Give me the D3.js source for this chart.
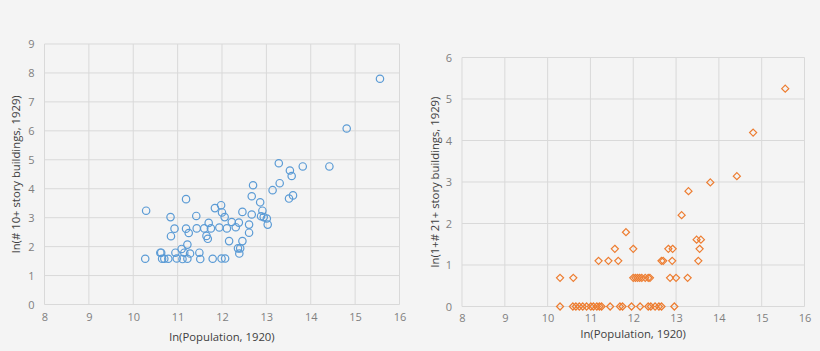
<!DOCTYPE html>
<html>
<head>
<meta charset="utf-8">
<script src="https://cdn.jsdelivr.net/npm/d3@7"></script>
<style>
  body { margin: 0; background: #f4f4f4; }
  svg { display: block; }
  .tick text { fill: #7f7f7f; font-size: 11px; font-family: "Open Sans", "Liberation Sans", sans-serif; }
  .title { fill: #404040; font-size: 11.3px; font-family: "Open Sans", "Liberation Sans", sans-serif; }
</style>
</head>
<body>
<svg id="chart" width="820" height="351"></svg>
<script>
// left chart: ln(pop 1920) vs ln(# 10+ story buildings)
let popTall = [15.56, 14.81, 14.42, 13.82, 13.28, 13.53, 13.57, 13.30, 13.14, 13.51, 13.60,
  12.70, 12.67, 12.86, 12.91, 12.88, 12.94, 13.01, 13.03, 12.67, 12.61, 12.61, 12.46, 12.38,
  12.31, 12.22, 12.46, 12.36, 12.41, 12.39, 12.16, 12.11, 12.06, 12.00, 11.98, 11.84, 11.94,
  11.99, 12.07, 11.79, 11.70, 11.75, 11.60, 11.65, 11.68, 11.43, 11.42, 11.19, 11.19, 11.25,
  11.22, 11.09, 11.15, 11.28, 11.49, 11.51, 11.22, 11.11, 10.98, 10.95, 10.93, 10.84, 10.85,
  10.79, 10.70, 10.65, 10.61, 10.63, 10.29, 10.27]
let tall10 = [7.80, 6.08, 4.77, 4.77, 4.88, 4.63, 4.44, 4.19, 3.95, 3.66, 3.77,
  4.12, 3.74, 3.53, 3.24, 3.05, 3.02, 2.97, 2.76, 3.11, 2.76, 2.48, 3.20, 2.83,
  2.67, 2.85, 2.19, 1.94, 1.94, 1.76, 2.19, 2.63, 3.02, 3.18, 3.43, 3.33, 2.66,
  1.59, 1.59, 1.58, 2.82, 2.63, 2.63, 2.37, 2.27, 2.63, 3.06, 3.64, 2.62, 2.47,
  2.07, 1.92, 1.79, 1.76, 1.79, 1.57, 1.58, 1.57, 1.59, 1.79, 2.62, 3.02, 2.36,
  1.58, 1.58, 1.58, 1.79, 1.79, 3.24, 1.58]

// right chart: ln(pop 1920) vs ln(1 + # 21+ story buildings)
let popSky = [15.55, 14.80, 14.42, 13.80, 13.29, 13.13, 13.48, 13.58, 13.55, 13.52,
  13.27, 13.00, 12.86, 12.82, 12.92, 12.91, 12.66, 12.70, 12.00, 11.83, 11.57, 11.65,
  11.42, 11.19, 10.60, 10.29,
  12.00, 12.05, 12.10, 12.15, 12.20, 12.28, 12.35, 12.39,
  10.29, 10.59, 10.66, 10.74, 10.82, 10.91, 11.01, 11.07, 11.15, 11.21, 11.26, 11.46,
  11.69, 11.75, 11.96, 12.16, 12.35, 12.41, 12.51, 12.60, 12.66, 12.96]
let sky21 = [5.25, 4.19, 3.14, 2.99, 2.78, 2.20, 1.61, 1.61, 1.39, 1.10,
  0.69, 0.69, 0.69, 1.39, 1.39, 1.10, 1.10, 1.10, 1.39, 1.79, 1.39, 1.10,
  1.10, 1.10, 0.69, 0.69,
  0.69, 0.69, 0.69, 0.69, 0.69, 0.69, 0.69, 0.69,
  0, 0, 0, 0, 0, 0, 0, 0, 0, 0, 0, 0,
  0, 0, 0, 0, 0, 0, 0, 0, 0, 0]

let xTicks = [8, 9, 10, 11, 12, 13, 14, 15, 16]
let yTicksLeft = [0, 1, 2, 3, 4, 5, 6, 7, 8, 9]
let yTicksRight = [0, 1, 2, 3, 4, 5, 6]

let svg = d3.select('#chart')

function drawPanel(cfg){
  let g = svg.append('g')
  let xScale = d3.scaleLinear().domain([8, 16]).range([cfg.left, cfg.right])
  let yScale = d3.scaleLinear().domain([0, d3.max(cfg.yTicks)]).range([cfg.bottom, cfg.top])

  // gridlines
  g.append('g').selectAll('line').data(xTicks).join('line')
    .attr('x1', d => xScale(d)).attr('x2', d => xScale(d))
    .attr('y1', cfg.top).attr('y2', cfg.bottom)
    .attr('stroke', '#d9d9d9').attr('stroke-width', 1)
  g.append('g').selectAll('line').data(cfg.yTicks).join('line')
    .attr('x1', cfg.left).attr('x2', cfg.right)
    .attr('y1', d => yScale(d)).attr('y2', d => yScale(d))
    .attr('stroke', '#d9d9d9').attr('stroke-width', 1)

  let xAxis = d3.axisBottom(xScale).tickValues(xTicks).tickFormat(d3.format('d')).tickSize(0).tickPadding(cfg.xPad)
  g.append('g').attr('transform', 'translate(0,' + cfg.bottom + ')').call(xAxis)
    .call(a => a.select('.domain').remove())
  let yAxis = d3.axisLeft(yScale).tickValues(cfg.yTicks).tickFormat(d3.format('d')).tickSize(0).tickPadding(10)
  g.append('g').attr('transform', 'translate(' + cfg.left + ',0)').call(yAxis)
    .call(a => a.select('.domain').remove())

  g.append('text').attr('class', 'title').attr('text-anchor', 'middle')
    .attr('x', (cfg.left + cfg.right) / 2).attr('y', cfg.xTitleY).text(cfg.xTitle)
  g.append('text').attr('class', 'title').attr('text-anchor', 'middle')
    .attr('transform', 'translate(' + cfg.yTitleX + ',' + (cfg.top + cfg.bottom) / 2 + ') rotate(-90)')
    .text(cfg.yTitle)

  let pts = cfg.xs.map((x, i) => ({x: x, y: cfg.ys[i]}))
  if (cfg.shape === 'circle'){
    g.append('g').selectAll('circle').data(pts).join('circle')
      .attr('cx', d => xScale(d.x)).attr('cy', d => yScale(d.y)).attr('r', 3.7)
      .attr('fill', 'none').attr('stroke', '#5b9bd5').attr('stroke-width', 1.2)
  }
  else{
    let diamond = d3.symbol().type(d3.symbolDiamond2).size(32)
    g.append('g').selectAll('path').data(pts).join('path')
      .attr('transform', d => 'translate(' + xScale(d.x) + ',' + yScale(d.y) + ')')
      .attr('d', diamond)
      .attr('fill', 'none').attr('stroke', '#ed7d31').attr('stroke-width', 1.2)
  }
}

drawPanel({left: 44.5, right: 399.5, top: 44, bottom: 304.5, yTicks: yTicksLeft,
  xs: popTall, ys: tall10, shape: 'circle', xPad: 9, xTitleY: 341, yTitleX: 20,
  xTitle: 'ln(Population, 1920)', yTitle: 'ln(# 10+ story buildings, 1929)'})
drawPanel({left: 462, right: 804.5, top: 57.5, bottom: 306.5, yTicks: yTicksRight,
  xs: popSky, ys: sky21, shape: 'diamond', xPad: 8, xTitleY: 338, yTitleX: 439,
  xTitle: 'ln(Population, 1920)', yTitle: 'ln(1+# 21+ story buildings, 1929)'})
</script>
</body>
</html>
